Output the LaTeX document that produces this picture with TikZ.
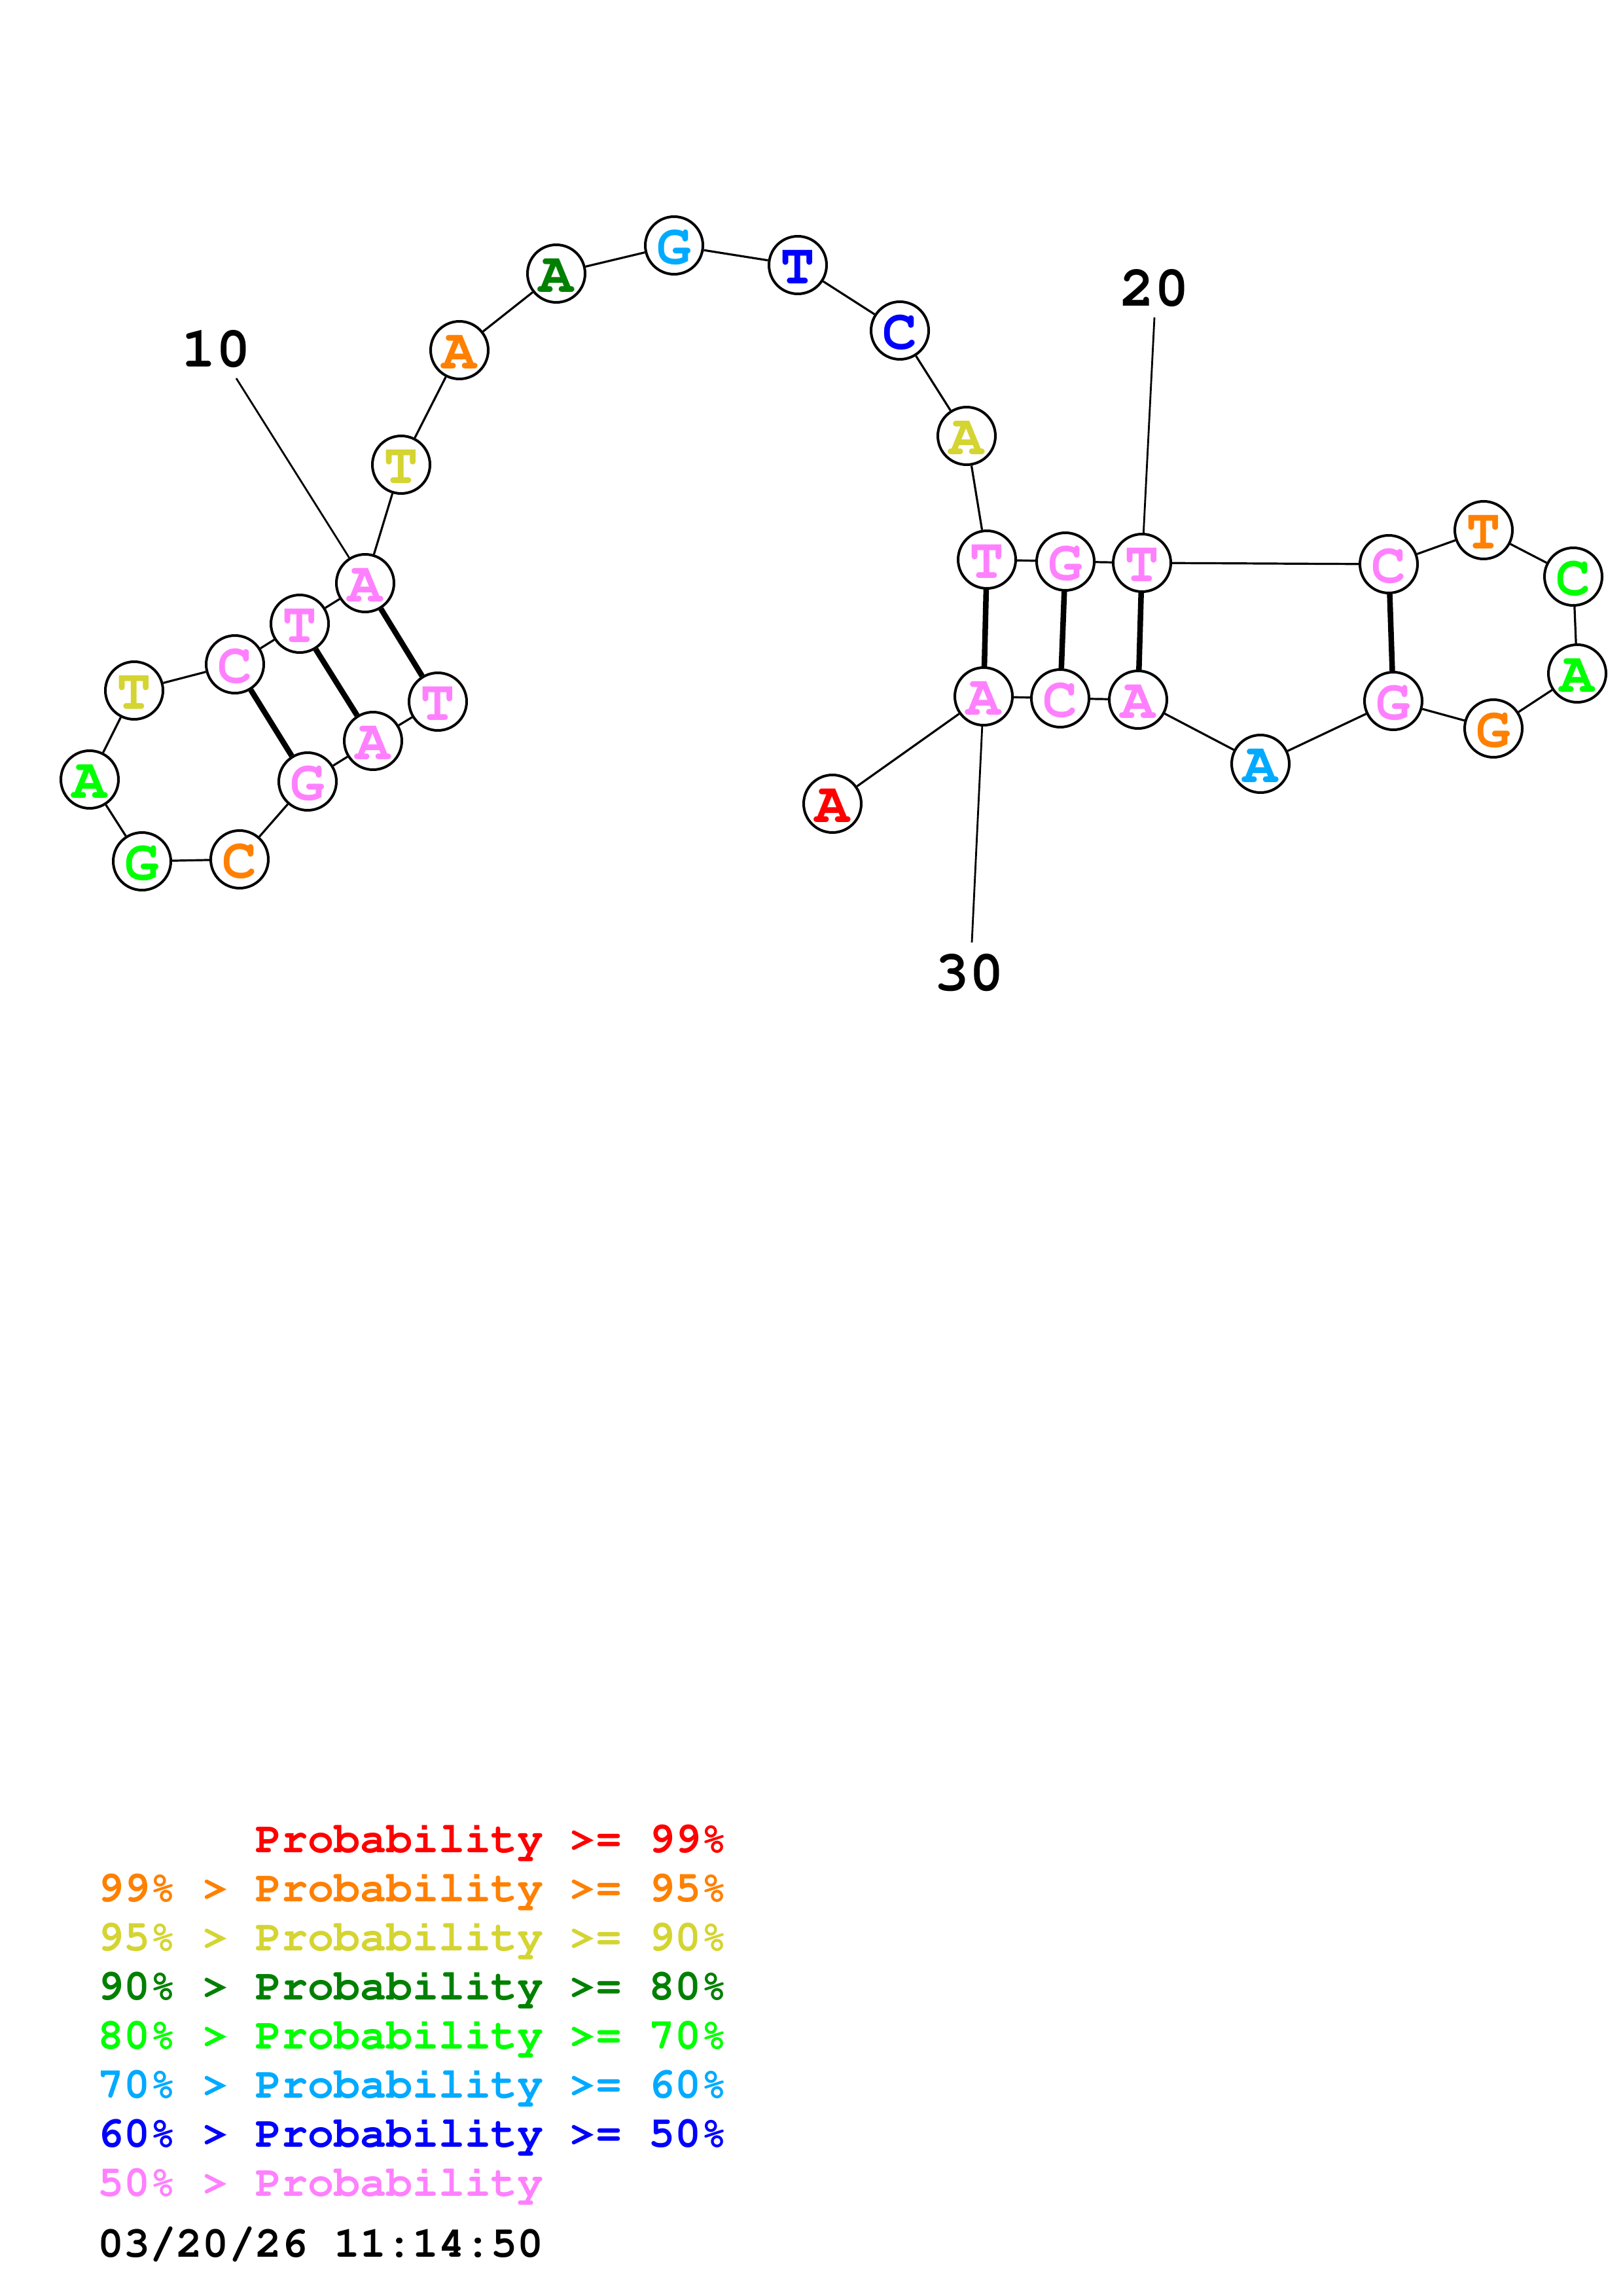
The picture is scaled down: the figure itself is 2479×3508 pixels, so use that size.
\documentclass[tikz,border=0pt]{standalone}
\usepackage[T1]{fontenc}
\usepackage{courier}
\usepackage{tikz}

\definecolor{c99}{RGB}{255,0,0}
\definecolor{c95}{RGB}{255,128,0}
\definecolor{c90}{RGB}{212,212,50}
\definecolor{c80}{RGB}{0,128,0}
\definecolor{c70}{RGB}{0,255,0}
\definecolor{c60}{RGB}{0,170,255}
\definecolor{c50}{RGB}{0,0,255}
\definecolor{clow}{RGB}{255,128,255}

\begin{document}
\begin{tikzpicture}[x=0.1mm,y=-0.1mm,
  base/.style={circle,draw,line width=0.4mm,fill=white,minimum size=8.8mm,inner sep=0pt,
    text height=16pt,text depth=0pt,font=\fontsize{25}{25}\selectfont\ttfamily\bfseries},
  pair/.style={line width=0.85mm},
  chain/.style={line width=0.32mm},
  tick/.style={line width=0.28mm},
  num/.style={font=\fontsize{25}{25}\selectfont\ttfamily\bfseries},
  key/.style={anchor=base west,inner sep=0pt,font=\fontsize{19}{19}\selectfont\ttfamily\bfseries}]
 \useasboundingbox (0,0) rectangle (2479,3508);
 \node[num] (l10) at (330,534) {10};
 \node[num] (l20) at (1764,441) {20};
 \node[num] (l30) at (1481,1487) {30};
 \coordinate (t10) at (361,578);
 \coordinate (t20) at (1764,485);
 \coordinate (t30) at (1485,1440);
 \node[base,text=clow] (n1) at (669,1072) {T};
 \node[base,text=clow] (n2) at (570,1132) {A};
 \node[base,text=clow] (n3) at (470,1194) {G};
 \node[base,text=c95] (n4) at (366,1313) {C};
 \node[base,text=c70] (n5) at (217,1316) {G};
 \node[base,text=c70] (n6) at (137,1191) {A};
 \node[base,text=c90] (n7) at (205,1055) {T};
 \node[base,text=clow] (n8) at (359,1015) {C};
 \node[base,text=clow] (n9) at (458,953) {T};
 \node[base,text=clow] (n10) at (558,891) {A};
 \node[base,text=c90] (n11) at (613,710) {T};
 \node[base,text=c95] (n12) at (702,535) {A};
 \node[base,text=c80] (n13) at (850,418) {A};
 \node[base,text=c60] (n14) at (1030,375) {G};
 \node[base,text=c50] (n15) at (1219,405) {T};
 \node[base,text=c50] (n16) at (1375,505) {C};
 \node[base,text=c90] (n17) at (1477,666) {A};
 \node[base,text=clow] (n18) at (1508,855) {T};
 \node[base,text=clow] (n19) at (1628,858) {G};
 \node[base,text=clow] (n20) at (1745,860) {T};
 \node[base,text=clow] (n21) at (2122,862) {C};
 \node[base,text=c95] (n22) at (2267,810) {T};
 \node[base,text=c70] (n23) at (2404,881) {C};
 \node[base,text=c70] (n24) at (2410,1029) {A};
 \node[base,text=c95] (n25) at (2282,1113) {G};
 \node[base,text=clow] (n26) at (2129,1071) {G};
 \node[base,text=c60] (n27) at (1926,1167) {A};
 \node[base,text=clow] (n28) at (1739,1069) {A};
 \node[base,text=clow] (n29) at (1620,1067) {C};
 \node[base,text=clow] (n30) at (1503,1064) {A};
 \node[base,text=c99] (n31) at (1272,1228) {A};
 \draw[tick] (t10) -- (n10);
 \draw[tick] (t20) -- (n20);
 \draw[tick] (t30) -- (n30);
 \draw[chain] (n1) -- (n2) -- (n3) -- (n4) -- (n5) -- (n6) -- (n7) -- (n8) -- (n9) -- (n10) -- (n11);
 \draw[chain] (n11) -- (n12) -- (n13) -- (n14) -- (n15) -- (n16) -- (n17) -- (n18) -- (n19) -- (n20) -- (n21);
 \draw[chain] (n21) -- (n22) -- (n23) -- (n24) -- (n25) -- (n26) -- (n27) -- (n28) -- (n29) -- (n30) -- (n31);
 \draw[pair] (n10) -- (n1);
 \draw[pair] (n9) -- (n2);
 \draw[pair] (n8) -- (n3);
 \draw[pair] (n18) -- (n30);
 \draw[pair] (n19) -- (n29);
 \draw[pair] (n20) -- (n28);
 \draw[pair] (n21) -- (n26);
 \node[key,text=c99] (k99) at (149,2830) {\hphantom{99\% > }Probability >= 99\%};
 \node[key,text=c95] (k95) at (149,2905) {99\% > Probability >= 95\%};
 \node[key,text=c90] (k90) at (149,2980) {95\% > Probability >= 90\%};
 \node[key,text=c80] (k80) at (149,3055) {90\% > Probability >= 80\%};
 \node[key,text=c70] (k70) at (149,3130) {80\% > Probability >= 70\%};
 \node[key,text=c60] (k60) at (149,3205) {70\% > Probability >= 60\%};
 \node[key,text=c50] (k50) at (149,3280) {60\% > Probability >= 50\%};
 \node[key,text=clow] (klow) at (149,3355) {50\% > Probability};
 \node[key] (date) at (149,3448) {03/20/26 11:14:50};
\end{tikzpicture}
\end{document}
